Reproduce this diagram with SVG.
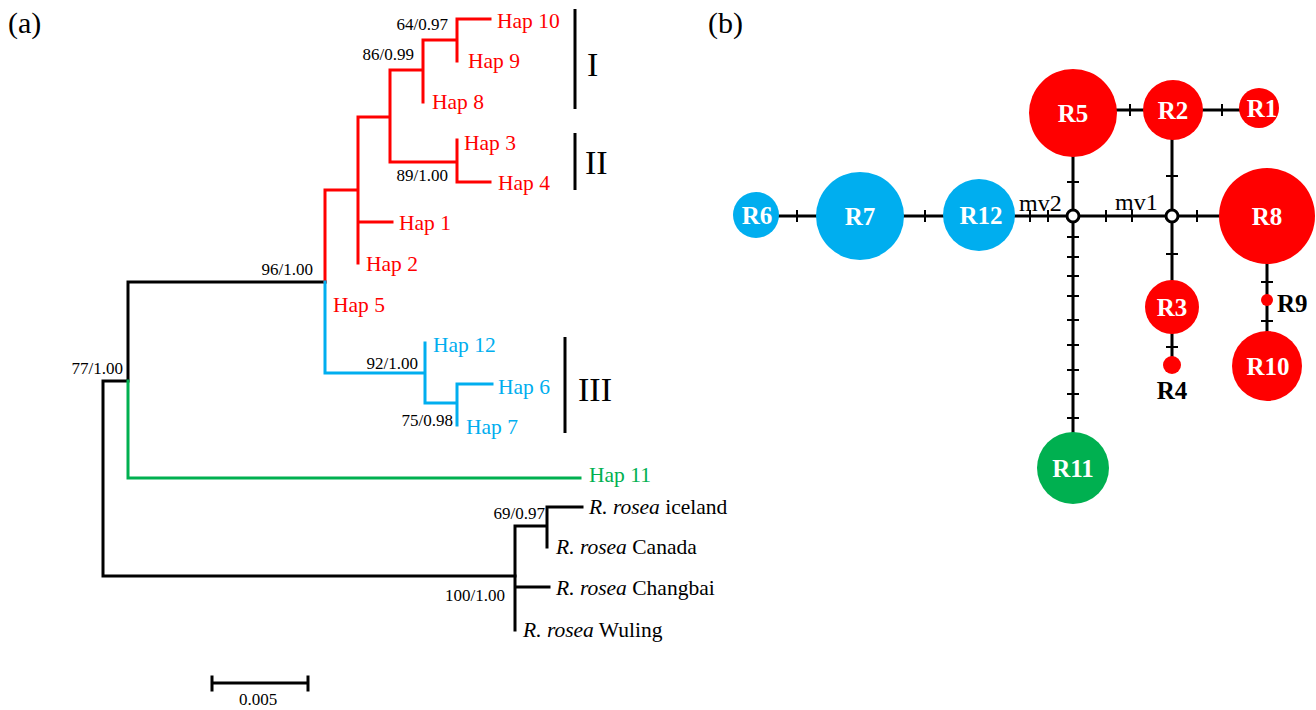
<svg xmlns="http://www.w3.org/2000/svg" width="1316" height="710" viewBox="0 0 1316 710">
<style>
text{font-family:"Liberation Serif","Times New Roman",serif}
.br{fill:none;stroke-width:3;stroke-linecap:square}
.k{stroke:#000}.r{stroke:#ff0000}.b{stroke:#00aeef}.g{stroke:#00b050}
.hr{fill:#ff0000;font-size:21.5px}.hb{fill:#00aeef;font-size:21.5px}.hg{fill:#00b050;font-size:21.5px}
.sup{font-size:17px;fill:#000;text-anchor:end}
.tx{font-size:21.5px;fill:#000}
.rom{font-size:34px;fill:#000}
.bar{stroke:#000;stroke-width:3}
.edge{stroke:#000;stroke-width:3;fill:none}
.tick{stroke:#000;stroke-width:2}
.nl{font-size:25px;font-weight:bold;fill:#fff;text-anchor:middle}
.ol{font-size:25px;font-weight:bold;fill:#000}
.mv{fill:#fff;stroke:#000;stroke-width:3}
</style>
<text x="8" y="33" font-size="30" fill="#000">(a)</text>
<text x="708" y="33" font-size="30" fill="#000">(b)</text>
<g id="tree">
<path class="br k" d="M103,381 V576 M103,381 H128 V282 H325 M103,576 H515"/>
<path class="br g" d="M128,381 V478 H580"/>
<path class="br r" d="M325,282 V190 H358 M358,117 V263 M358,222 H392 M358,117 H390 M390,70 V162 H457 M390,70 H423 M423,40 V102 M423,40 H457 M457,19 V61 M457,19 H490 M457,140 V182 H490"/>
<path class="br b" d="M325,282 V373 H425 M425,343 V403 H457 M457,384 V425 M457,384 H492"/>
<path class="br k" d="M515,526 V630 M515,526 H547 M547,507 V547 M547,507 H582 M515,587 H549"/>
</g>
<g id="tip-labels">
<text class="hr" x="497" y="28">Hap 10</text>
<text class="hr" x="468" y="68">Hap 9</text>
<text class="hr" x="432" y="109">Hap 8</text>
<text class="hr" x="464" y="150">Hap 3</text>
<text class="hr" x="498" y="190">Hap 4</text>
<text class="hr" x="399" y="230">Hap 1</text>
<text class="hr" x="366" y="271">Hap 2</text>
<text class="hr" x="333" y="312">Hap 5</text>
<text class="hb" x="433" y="352">Hap 12</text>
<text class="hb" x="498" y="394">Hap 6</text>
<text class="hb" x="466" y="434">Hap 7</text>
<text class="hg" x="589" y="482">Hap 11</text>
<text class="tx" x="589" y="514"><tspan font-style="italic">R. rosea</tspan> iceland</text>
<text class="tx" x="556" y="554"><tspan font-style="italic">R. rosea</tspan> Canada</text>
<text class="tx" x="556" y="595"><tspan font-style="italic">R. rosea</tspan> Changbai</text>
<text class="tx" x="523" y="637"><tspan font-style="italic">R. rosea</tspan> Wuling</text>
</g>
<g id="support">
<text class="sup" x="448" y="30">64/0.97</text>
<text class="sup" x="414" y="60">86/0.99</text>
<text class="sup" x="448" y="181">89/1.00</text>
<text class="sup" x="313" y="275">96/1.00</text>
<text class="sup" x="123" y="374">77/1.00</text>
<text class="sup" x="418" y="369">92/1.00</text>
<text class="sup" x="453" y="426">75/0.98</text>
<text class="sup" x="545" y="519">69/0.97</text>
<text class="sup" x="505" y="601">100/1.00</text>
</g>
<g id="clades">
<line class="bar" x1="575" y1="9" x2="575" y2="109"/>
<text class="rom" x="587" y="76">I</text>
<line class="bar" x1="575" y1="133" x2="575" y2="190"/>
<text class="rom" x="585" y="174">II</text>
<line class="bar" x1="565" y1="337" x2="565" y2="433"/>
<text class="rom" x="578" y="401">III</text>
</g>
<g id="scale">
<path class="br k" d="M212,683 H308 M212,677 V690 M308,677 V690"/>
<text x="258" y="705" font-size="17" text-anchor="middle" fill="#000">0.005</text>
</g>
<g id="connectors">
<path class="edge" d="M756,216 H1267 M1073,113 V468 M1172,110 V365 M1267,216 V366 M1073,110 H1259"/>
<path class="tick" d="M797,210 V222 M925,210 V222 M1030,210 V222 M1048,210 V222 M1106,210 V222 M1132,210 V222 M1197,210 V222 M1130,104 V116 M1222,104 V116 M1067,182 H1079 M1166,176 H1178 M1166,254 H1178 M1166,347 H1178 M1261,282 H1273 M1261,321 H1273 M1067,237 H1079 M1067,257 H1079 M1067,276 H1079 M1067,296 H1079 M1067,320 H1079 M1067,345 H1079 M1067,370 H1079 M1067,394 H1079 M1067,418 H1079"/>
</g>
<g id="R6"><circle cx="756" cy="215" r="23" fill="#00aeef"/><text class="nl" x="757" y="224">R6</text></g>
<g id="R7"><circle cx="860" cy="216" r="44" fill="#00aeef"/><text class="nl" x="860" y="225">R7</text></g>
<g id="R12"><circle cx="979" cy="215" r="36" fill="#00aeef"/><text class="nl" x="981" y="224">R12</text></g>
<g id="R5"><circle cx="1073" cy="113" r="44" fill="#ff0000"/><text class="nl" x="1073" y="122">R5</text></g>
<g id="R2"><circle cx="1173" cy="110" r="30" fill="#ff0000"/><text class="nl" x="1173" y="119">R2</text></g>
<g id="R1"><circle cx="1259" cy="108" r="20" fill="#ff0000"/><text class="nl" x="1262" y="117">R1</text></g>
<g id="R8"><circle cx="1267" cy="216" r="48" fill="#ff0000"/><text class="nl" x="1267" y="225">R8</text></g>
<g id="R3"><circle cx="1172" cy="307" r="27" fill="#ff0000"/><text class="nl" x="1172" y="316">R3</text></g>
<g id="R4"><circle cx="1172" cy="365" r="9" fill="#ff0000"/><text class="ol" x="1172" y="399" text-anchor="middle">R4</text></g>
<g id="R9"><circle cx="1267" cy="300" r="6" fill="#ff0000"/><text class="ol" x="1277" y="312">R9</text></g>
<g id="R10"><circle cx="1267" cy="366" r="35" fill="#ff0000"/><text class="nl" x="1268" y="375">R10</text></g>
<g id="R11"><circle cx="1073" cy="468" r="36" fill="#00b050"/><text class="nl" x="1073" y="477">R11</text></g>
<g id="mv2"><circle class="mv" cx="1073" cy="216" r="6"/><text x="1019" y="211" font-size="24" fill="#000">mv2</text></g>
<g id="mv1"><circle class="mv" cx="1172" cy="216" r="6"/><text x="1115" y="210" font-size="24" fill="#000">mv1</text></g>
</svg>
